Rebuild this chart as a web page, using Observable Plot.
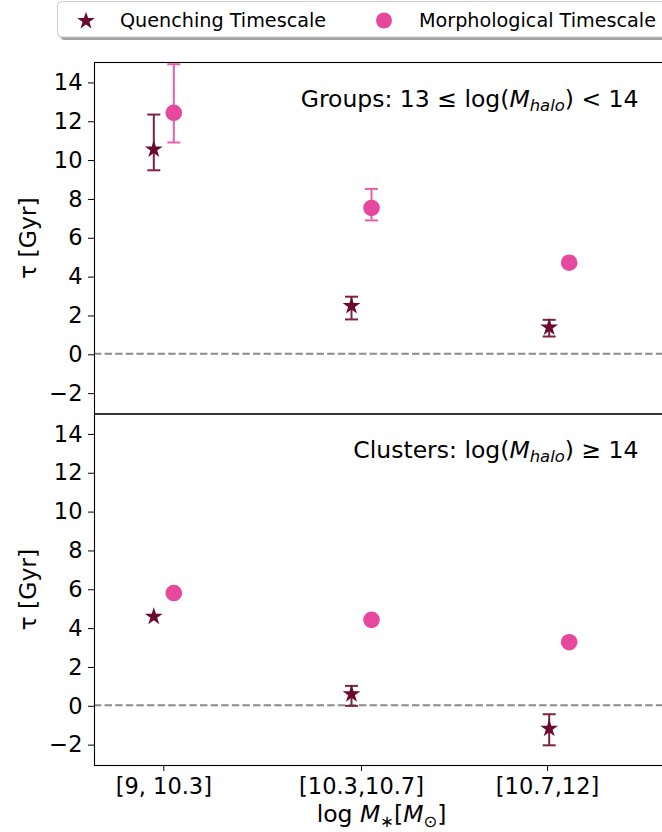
<!DOCTYPE html>
<html>
<head>
<meta charset="utf-8">
<script src="https://cdn.jsdelivr.net/npm/d3@7"></script>
<script src="https://cdn.jsdelivr.net/npm/@observablehq/plot@0.6"></script>
<style>
  html, body { margin: 0; padding: 0; background: #fff; overflow: hidden; width: 662px; height: 832px; }
  body { position: relative; font-family: "DejaVu Sans", sans-serif; }
  #legend { position: absolute; left: 0; top: 0; }
  #top { position: absolute; left: 0; top: 44px; width: 668px; }
  #bottom { position: absolute; left: 0; top: 413px; width: 668px; }
  #top svg, #bottom svg { max-width: none !important; height: auto; }
  text { white-space: pre; }
</style>
</head>
<body>
<div id="legend"></div>
<div id="top"></div>
<div id="bottom"></div>
<script>
// ---------------- data ----------------
const massBins = ["[9, 10.3]", "[10.3,10.7]", "[10.7,12]"];
const binCenters = [9.65, 10.5, 11.35];      // log M* position of each bin
const tickPositions = [9.65, 10.5, 11.3];    // where the bin labels sit
const panels = ["Groups", "Clusters"];
const seriesNames = ["Quenching Timescale", "Morphological Timescale"];
const yTicks = [-2, 0, 2, 4, 6, 8, 10, 12, 14];

const groupsQuench   = [10.52, 2.47, 1.36];
const groupsQuenchLo = [9.45, 1.77, 0.89];
const groupsQuenchHi = [12.32, 2.94, 1.75];
const groupsMorph    = [12.41, 7.51, 4.69];
const groupsMorphLo  = [10.88, 6.87, null];
const groupsMorphHi  = [14.91, 8.49, null];

const clustersQuench   = [4.57, 0.57, -1.20];
const clustersQuenchLo = [null, -0.03, -2.06];
const clustersQuenchHi = [null, 1.00, -0.46];
const clustersMorph    = [5.78, 4.40, 3.25];
const clustersMorphLo  = [null, null, null];
const clustersMorphHi  = [null, null, null];

// ---------------- styling ----------------
const qColor = "#6a0a2e", qErrColor = "#7c2244";
const mColor = "#e5489c", mErrColor = "#ea5fa9";
const FS_TICK = 22.5, FS_LABEL = 23.5, FS_LEG = 19.2;
const STAR_R = 5.6;
const font = '"DejaVu Sans", sans-serif';

function rowsFor(series, v, lo, hi) {
  return massBins.map((bin, i) => ({series, bin, m: binCenters[i], tau: v[i], lo: lo[i], hi: hi[i]}));
}

const capSymbol = { draw(ctx, size) { const w = Math.sqrt(size / Math.PI); ctx.moveTo(-w, 0); ctx.lineTo(w, 0); } };

function errMarks(data, color, dx) {
  const d = data.filter(r => r.lo != null);
  return [
    Plot.ruleX(d, {x: "m", y1: "lo", y2: "hi", dx, stroke: color, strokeWidth: 2}),
    Plot.dot(d, {x: "m", y: "lo", dx, symbol: capSymbol, r: 6.5, stroke: color, strokeWidth: 2, fill: "none"}),
    Plot.dot(d, {x: "m", y: "hi", dx, symbol: capSymbol, r: 6.5, stroke: color, strokeWidth: 2, fill: "none"})
  ];
}

function panel({quench, morph, key, isBottom}) {
  return Plot.plot({
    width: 668,
    height: isBottom ? 419 : 370,
    marginLeft: 94, marginRight: 0,
    marginTop: isBottom ? 0.5 : 18,
    marginBottom: isBottom ? 67 : 0.5,
    style: {fontFamily: font, fontSize: FS_TICK + "px", color: "black", background: "transparent", overflow: "visible", maxWidth: "none"},
    x: {domain: [9.352, 11.82]},
    y: {domain: [-3.1, 15]},
    marks: [
      Plot.ruleY([0], {stroke: "#8a8a8a", strokeWidth: 2, strokeDasharray: "7.4,3.2"}),
      Plot.frame({stroke: "black", strokeWidth: 1.1}),
      Plot.axisY({ticks: yTicks, tickSize: 6, tickPadding: 6, fontSize: FS_TICK, label: null, dy: 1}),
      isBottom
        ? Plot.axisX({ticks: tickPositions, tickFormat: v => massBins[tickPositions.indexOf(v)], tickSize: 6, tickPadding: 6.5, fontSize: FS_TICK, label: null})
        : Plot.axisX({ticks: [], label: null}),
      ...errMarks(quench, qErrColor, -10),
      ...errMarks(morph, mErrColor, 10),
      Plot.dot(quench, {x: "m", y: "tau", dx: -10, symbol: "star", r: STAR_R, fill: qColor, stroke: "none"}),
      Plot.dot(morph, {x: "m", y: "tau", dx: 10, symbol: "circle", r: 8.3, fill: mColor, stroke: "none"}),
      Plot.text([0], {frameAnchor: "left", text: () => "τ [Gyr]", rotate: -90, dx: -66.5,
        textAnchor: "middle", lineAnchor: "middle", fontSize: FS_LABEL, fill: "black"}),
      Plot.text([0], {frameAnchor: "top-right", text: () => key, dx: -30, dy: isBottom ? 43.5 : 44,
        textAnchor: "end", lineAnchor: "bottom", fontSize: FS_LABEL, fill: "black"}),
      ...(isBottom ? [Plot.text([0], {frameAnchor: "bottom", text: () => "__X__", dy: 56.5,
        textAnchor: "middle", lineAnchor: "bottom", fontSize: FS_LABEL, fill: "black"})] : [])
    ]
  });
}

const topChart = panel({
  quench: rowsFor(seriesNames[0], groupsQuench, groupsQuenchLo, groupsQuenchHi),
  morph: rowsFor(seriesNames[1], groupsMorph, groupsMorphLo, groupsMorphHi),
  key: "__G__", isBottom: false
});
const bottomChart = panel({
  quench: rowsFor(seriesNames[0], clustersQuench, clustersQuenchLo, clustersQuenchHi),
  morph: rowsFor(seriesNames[1], clustersMorph, clustersMorphLo, clustersMorphHi),
  key: "__C__", isBottom: true
});
topChart.style.maxWidth = "none";
bottomChart.style.maxWidth = "none";
document.getElementById("top").appendChild(topChart);
document.getElementById("bottom").appendChild(bottomChart);

// rich (math-like) text
function setRich(svg, key, parts, fs) {
  d3.select(svg).selectAll("text").filter(function () { return this.textContent === key; }).each(function () {
    const t = d3.select(this);
    t.text(null);
    let shift = 0;
    for (const p of parts) {
      const s = t.append("tspan").text(p.t);
      const target = p.sub ? fs * 0.21 : 0;
      if (target !== shift) { s.attr("dy", target - shift); shift = target; }
      if (p.it) s.attr("font-style", "italic");
      if (p.sub) s.attr("font-size", fs * 0.7);
    }
  });
}
setRich(topChart, "__G__", [{t: "Groups: 13 ≤ log("}, {t: "M", it: true}, {t: "halo", it: true, sub: true}, {t: ") < 14"}], FS_LABEL);
setRich(bottomChart, "__C__", [{t: "Clusters: log("}, {t: "M", it: true}, {t: "halo", it: true, sub: true}, {t: ") ≥ 14"}], FS_LABEL);
setRich(bottomChart, "__X__", [{t: "log "}, {t: "M", it: true}, {t: "∗", sub: true}, {t: "["}, {t: "M", it: true}, {t: "⊙", sub: true}, {t: "]"}], FS_LABEL);

// ---------------- legend ----------------
const leg = d3.select("#legend").append("svg").attr("width", 662).attr("height", 44)
  .style("font-family", font);
leg.append("rect").attr("x", 60.5).attr("y", 4.5).attr("width", 700).attr("height", 35.5).attr("rx", 4).attr("fill", "#a3a3a3");
leg.append("rect").attr("x", 57.5).attr("y", 1.5).attr("width", 700).attr("height", 35.5).attr("rx", 4)
  .attr("fill", "white").attr("stroke", "#cccccc").attr("stroke-width", 1);
const starSize = Math.PI * STAR_R * STAR_R;
leg.append("path").attr("d", d3.symbol(d3.symbolStar, starSize)()).attr("transform", "translate(86,21)").attr("fill", qColor);
leg.append("text").attr("x", 120).attr("y", 26.5).attr("font-size", FS_LEG).text(seriesNames[0]);
leg.append("circle").attr("cx", 384).attr("cy", 20.5).attr("r", 8).attr("fill", mColor);
leg.append("text").attr("x", 419).attr("y", 26.5).attr("font-size", FS_LEG).text(seriesNames[1]);
</script>
</body>
</html>
